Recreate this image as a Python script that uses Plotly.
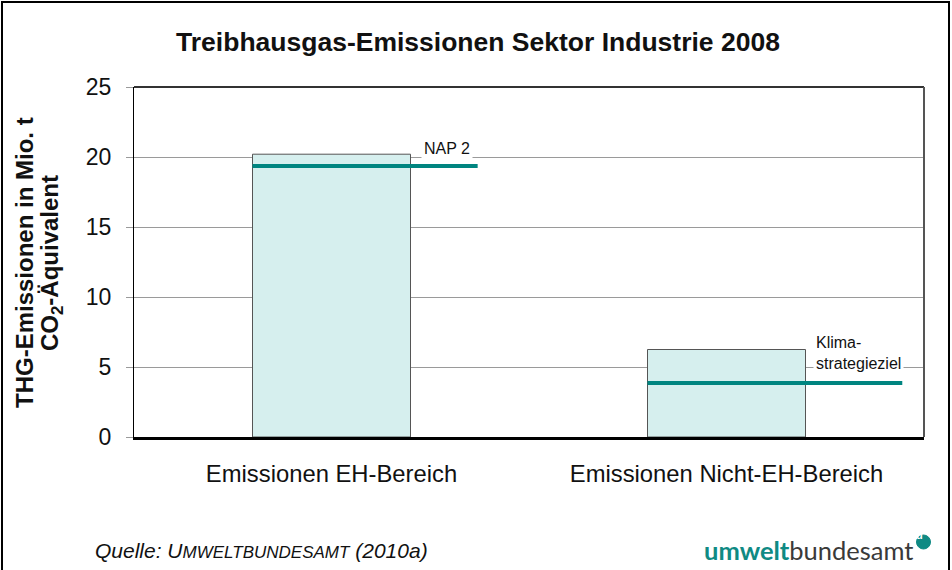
import plotly.graph_objects as go

# ---- data ----
categories = ["Emissionen EH-Bereich", "Emissionen Nicht-EH-Bereich"]
emissions = [20.2, 6.25]
target_labels = ["NAP 2", "Klima-<br>strategieziel"]
target_values = [19.35, 3.85]
y_ticks = [0, 5, 10, 15, 20, 25]

W, H = 952, 570
L, R, T, B = 134, 28, 87, 133
PW, PH = W - L - R, H - T - B

def px(x):  # pixel -> paper x
    return (x - L) / PW

def py(y):  # pixel -> paper y
    return 1 - (y - T) / PH

FONT = "Arial, Liberation Sans, sans-serif"
TEAL = "#008580"
bar_w = 0.4
xs = list(range(len(categories)))

fig = go.Figure()
fig.add_trace(go.Bar(
    x=xs, y=emissions, width=bar_w,
    marker=dict(color="#d6efee", line=dict(color="#555555", width=1)),
    showlegend=False, hoverinfo="skip",
))

# target lines: start at bar's left edge, extend to the right
ext = [0.57, 0.645]
for i, v in enumerate(target_values):
    fig.add_trace(go.Scatter(
        x=[xs[i] - bar_w / 2, xs[i] - bar_w / 2 + ext[i]], y=[v, v],
        mode="lines", line=dict(color=TEAL, width=4),
        showlegend=False, hoverinfo="skip",
    ))

# labels for target lines
lab_pos = [(xs[0] + 0.292, 20.62, 16), (xs[1] + 0.333, 6.0, 16)]
for (lx, ly, fs), txt in zip(lab_pos, target_labels):
    fig.add_annotation(x=lx, y=ly, xref="x", yref="y", text=txt, showarrow=False,
                       font=dict(family=FONT, size=fs, color="#111111"),
                       bgcolor="white", align="left", borderpad=2)

fig.update_layout(
    width=W, height=H,
    margin=dict(l=L, r=R, t=T, b=B, pad=0),
    paper_bgcolor="white", plot_bgcolor="white",
    font=dict(family=FONT, color="#111111"),
    bargap=0.6,
    title=dict(text="<b>Treibhausgas-Emissionen Sektor Industrie 2008</b>",
               xref="container", x=478 / W, xanchor="center",
               yref="container", y=1 - 42 / H, yanchor="middle",
               font=dict(family=FONT, size=26.5, color="#111111")),
    xaxis=dict(range=[-0.5, 1.5], tickvals=xs, ticktext=categories,
               showgrid=False, zeroline=False, showline=True, linecolor="black",
               linewidth=3, ticks="", ticklabelstandoff=13,
               tickfont=dict(family=FONT, size=23.8, color="#111111")),
    yaxis=dict(range=[0, 25], tickvals=y_ticks, showgrid=True, gridcolor="#9a9a9a",
               gridwidth=1, zeroline=False, showline=True, linecolor="black", linewidth=1,
               ticks="outside", ticklen=7, tickcolor="#9a9a9a", ticklabelstandoff=10,
               tickfont=dict(family=FONT, size=23, color="#111111")),
)

# plot border top / right
fig.add_shape(type="line", xref="paper", yref="paper", x0=0, x1=1, y0=1, y1=1,
              line=dict(color="#333333", width=2), layer="above")
fig.add_shape(type="line", xref="paper", yref="paper", x0=1, x1=1, y0=0, y1=1,
              line=dict(color="#555555", width=2), layer="above")
# outer frame
fig.add_shape(type="rect", xref="paper", yref="paper", x0=px(2), x1=px(949),
              y0=py(575), y1=py(2), line=dict(color="black", width=2), layer="above")

# y-axis title (two lines)
fig.add_annotation(x=px(24), y=py(263), xref="paper", yref="paper", showarrow=False,
                   text="<b>THG-Emissionen in Mio. t</b>", textangle=-90,
                   xanchor="center", yanchor="middle",
                   font=dict(family=FONT, size=24, color="#111111"))
fig.add_annotation(x=px(51), y=py(263), xref="paper", yref="paper", showarrow=False,
                   text="<b>CO<sub>2</sub>-Äquivalent</b>", textangle=-90,
                   xanchor="center", yanchor="middle",
                   font=dict(family=FONT, size=24, color="#111111"))

# source
fig.add_annotation(x=px(93), y=py(550), xref="paper", yref="paper", showarrow=False,
                   xanchor="left", yanchor="middle",
                   text="<i>Quelle: U<span style='font-size:17px'>MWELTBUNDESAMT</span> (2010a)</i>",
                   font=dict(family=FONT, size=21, color="#111111"))

# logo
fig.add_annotation(x=px(702), y=py(550), xref="paper", yref="paper", showarrow=False,
                   xanchor="left", yanchor="middle",
                   text="<b><span style='color:#0f8a84'>umwelt</span></b><span style='color:#3a3a3a'>bundesamt</span>",
                   font=dict(family="Lato, Open Sans, sans-serif", size=25.5, color="#3a3a3a"))
fig.add_shape(type="circle", xref="paper", yref="paper",
              x0=px(916.5), x1=px(930.5), y0=py(549), y1=py(535),
              fillcolor="#0f8a84", line=dict(color="#0f8a84", width=1))
fig.add_annotation(x=px(923.5), y=py(542), xref="paper", yref="paper", showarrow=False,
                   text="<b>u</b>", borderpad=0,
                   font=dict(family=FONT, size=11, color="white"))

fig.write_html("out.html", post_script="document.body.style.margin='0px';",
               config={"displayModeBar": False})
